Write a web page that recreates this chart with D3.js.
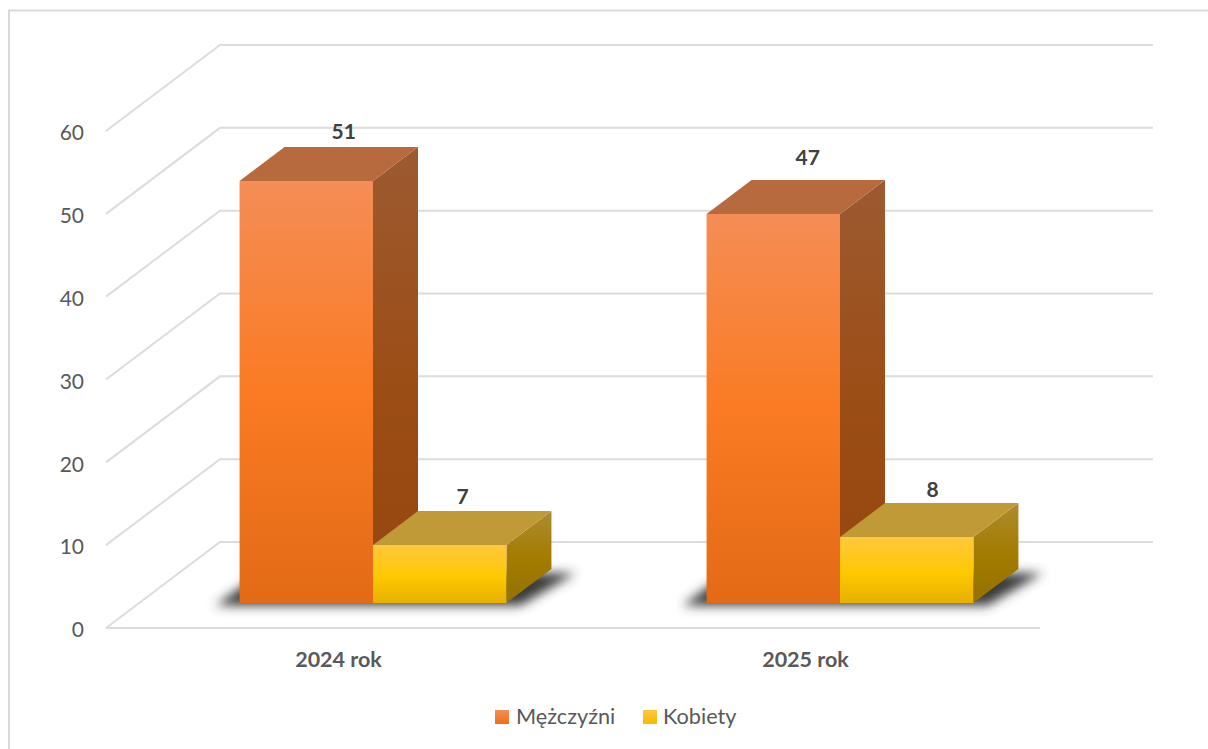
<!DOCTYPE html>
<html lang="pl">
<head>
<meta charset="utf-8">
<script src="https://cdn.jsdelivr.net/npm/d3@7"></script>
<style>
html,body{margin:0;padding:0;background:#fff;overflow:hidden}
svg{display:block}
text{font-family:Lato,"Open Sans",sans-serif}
</style>
</head>
<body>
<div id="chart"></div>
<script>
const categories = ["2024 rok", "2025 rok"];
const seriesNames = ["Mężczyźni", "Kobiety"];
const men = [51, 47];
const women = [7, 8];
const ticks = [0, 10, 20, 30, 40, 50, 60];
// hand-placed data label offsets, as in the reference [dx from front-face centre, dy above back edge]
const menLabelNudge = [[37.5, -15], [34.5, -22]];
const womenLabelNudge = [[23, -14], [26, -13]];

const W = 1208, H = 749;
const svg = d3.select("#chart").append("svg").attr("width", W).attr("height", H);
const defs = svg.append("defs");

const y = d3.scaleLinear().domain([0, 60]).range([628, 131]);
const x = d3.scaleBand().domain(categories).range([106, 1040]);
const wall = {dx: 114, dy: -86};
const barPlane = {dx: 33.5, dy: -25};
const depth = {dx: 45, dy: -34};
const inner = d3.scaleBand().domain(seriesNames).range([0, x.bandwidth()]).paddingInner(0).paddingOuter(0.75);

const grad = (id, stops, x2 = 0, y2 = 1) => {
  const g = defs.append("linearGradient").attr("id", id)
    .attr("x1", 0).attr("y1", 0).attr("x2", x2).attr("y2", y2);
  stops.forEach(([o, c]) => g.append("stop").attr("offset", o).attr("stop-color", c));
};
grad("menFront", [[0, "#F58D56"], [0.5, "#FA7B23"], [1, "#E36A16"]]);
grad("womenFront", [[0, "#FFC83E"], [0.55, "#FFC800"], [1, "#E6B000"]]);
grad("menSide", [[0, "#9C5A31"], [0.5, "#9C4E17"], [1, "#96450E"]]);
grad("womenSide", [[0, "#AE8B30"], [0.5, "#A37C00"], [1, "#947200"]]);
grad("menKey", [[0, "#F58D56"], [1, "#EE7019"]]);
grad("womenKey", [[0, "#FFC83E"], [1, "#F2BC00"]]);
defs.append("filter").attr("id", "blur").attr("x", "-20%").attr("y", "-60%").attr("width", "140%").attr("height", "220%")
  .append("feGaussianBlur").attr("stdDeviation", 5.5);

// Chart frame (runs off the right and bottom of the picture)
svg.append("path").attr("d", `M9,${H + 5}V10.5H${W + 5}`)
  .attr("fill", "none").attr("stroke", "#d9d9d9").attr("stroke-width", 2);

// Gridlines: side wall diagonal + back wall line
const grid = svg.append("g").attr("fill", "none").attr("stroke", "#dcdcdc").attr("stroke-width", 2);
ticks.forEach(t => {
  const [x0, x1] = x.range();
  grid.append("path").attr("d",
    `M${x0},${y(t)}L${x0 + wall.dx},${y(t) + wall.dy}H${x1 + wall.dx - 1}`);
});
grid.append("path").attr("d", `M${x.range()[0]},${y(0)}H${x.range()[1]}`);

// Axes: labels only
const yAxis = svg.append("g").attr("transform", "translate(91,0)")
  .call(d3.axisLeft(y).tickValues(ticks).tickSize(0).tickPadding(0));
yAxis.select(".domain").remove();
yAxis.selectAll("text").attr("font-size", 21).attr("fill", "#595959").attr("font-family", "Lato")
  .attr("dy", "0.42em").attr("x", -7);

const xAxis = svg.append("g").attr("transform", `translate(-1,${y(0)})`)
  .call(d3.axisBottom(x).tickSize(0).tickPadding(0));
xAxis.select(".domain").remove();
xAxis.selectAll("text").attr("font-size", 21.5).attr("font-weight", 700).attr("fill", "#595959")
  .attr("font-family", "Lato").attr("y", 24).attr("dy", "0.71em");

const base = y(0) + barPlane.dy;
const pts = a => a.map(p => p.join(",")).join(" ");
const series = [
  {name: seriesNames[0], values: men, nudge: menLabelNudge, front: "url(#menFront)", side: "url(#menSide)", top: "#B86A3F"},
  {name: seriesNames[1], values: women, nudge: womenLabelNudge, front: "url(#womenFront)", side: "url(#womenSide)", top: "#BF9A37"}
];

categories.forEach((c, i) => {
  const left = x(c) + barPlane.dx + inner(seriesNames[0]);
  const right = x(c) + barPlane.dx + inner(seriesNames[1]) + inner.bandwidth();
  // Floor shadow
  svg.append("polygon").attr("filter", "url(#blur)").attr("fill", "#3a3a3a")
    .attr("points", pts([
      [left - 24, base + 2.5], [right + 14, base + 2.5],
      [right + depth.dx + 24, base + depth.dy + 4], [left + depth.dx - 24, base + depth.dy + 4]
    ]));
  series.forEach(s => {
    const bx = x(c) + barPlane.dx + inner(s.name), bw = inner.bandwidth();
    const top = Math.round(base - (y(0) - y(s.values[i])));
    const h = base - top;
    const g = svg.append("g");
    g.append("polygon").attr("fill", s.side).attr("points", pts([
      [bx + bw, top], [bx + bw + depth.dx, top + depth.dy],
      [bx + bw + depth.dx, base + depth.dy], [bx + bw, base]
    ]));
    g.append("polygon").attr("fill", s.top).attr("points", pts([
      [bx, top], [bx + depth.dx, top + depth.dy],
      [bx + bw + depth.dx, top + depth.dy], [bx + bw, top]
    ]));
    g.append("rect").attr("x", bx).attr("y", top).attr("width", bw).attr("height", h).attr("fill", s.front);
    g.append("text").attr("x", bx + bw / 2 + s.nudge[i][0]).attr("y", top + depth.dy + s.nudge[i][1])
      .attr("dy", "0.35em").attr("text-anchor", "middle").attr("font-size", 21).attr("font-weight", 700).attr("fill", "#404040")
      .text(s.values[i]);
  });
});

// Legend
const legend = [
  {name: seriesNames[0], fill: "url(#menKey)", kx: 495, tx: 516},
  {name: seriesNames[1], fill: "url(#womenKey)", kx: 643, tx: 663}
];
legend.forEach(l => {
  svg.append("rect").attr("x", l.kx).attr("y", 710).attr("width", 14).attr("height", 14).attr("fill", l.fill);
  svg.append("text").attr("x", l.tx).attr("y", 724).attr("font-size", 21.7).attr("fill", "#595959").text(l.name);
});
</script>
</body>
</html>
